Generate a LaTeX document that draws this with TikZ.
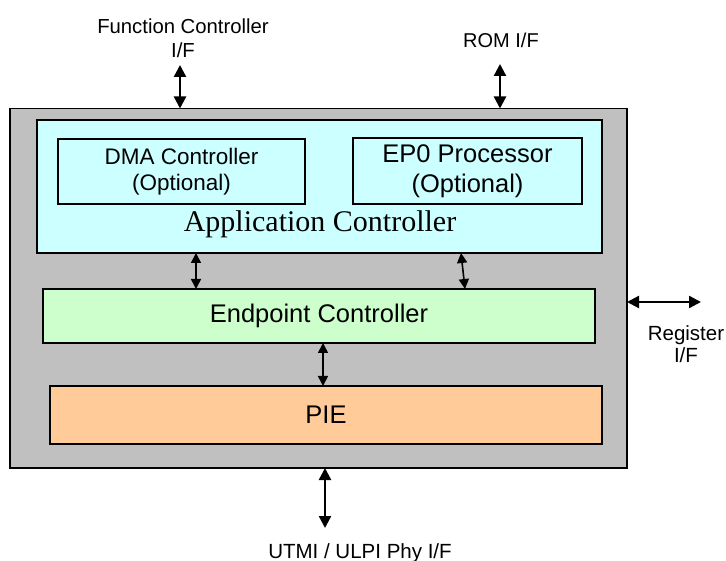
\documentclass[tikz,border=0pt]{standalone}
\usepackage{fontspec}
\setmainfont{Liberation Sans}
\newfontfamily\serifface{Liberation Serif}
\usetikzlibrary{arrows.meta}

\definecolor{shellgray}{RGB}{192,192,192}
\definecolor{appcyan}{RGB}{204,255,255}
\definecolor{epgreen}{RGB}{204,255,204}
\definecolor{pieorange}{RGB}{255,204,153}

\tikzset{
  blk/.style={draw, line width=1.4pt, inner sep=0pt, outer sep=0pt},
  link/.style={{Triangle[length=10pt,width=10pt]}-{Triangle[length=10pt,width=10pt]}, line width=1.6pt},
  bus/.style={<->, line width=2.3pt},
}

\begin{document}
\begin{tikzpicture} [x=1pt, y=-1pt, >={Triangle[length=12pt,width=12pt]}]
  \useasboundingbox (0,0) rectangle (726,561);

  % core and its blocks
  \node[blk, fill=shellgray, minimum width=617, minimum height=359.5] (core) at (318.5,288.25) {};
  \node[blk, fill=appcyan, minimum width=565, minimum height=133] (app) at (319.5,186.5) {};
  \node[blk, minimum width=247, minimum height=65, align=center,
        font=\fontsize{22.5}{26}\selectfont] (dma) at (181.5,171.5) {DMA Controller\\(Optional)};
  \node[blk, minimum width=229, minimum height=66, align=center,
        font=\fontsize{25.5}{30}\selectfont] (ep0) at (467.5,171) {EP0 Processor\\(Optional)};
  \node[anchor=base, font=\serifface\fontsize{30}{36}\selectfont] (apptxt) at (320,231.5) {Application Controller};

  \node[blk, fill=epgreen, minimum width=552, minimum height=54,
        font=\fontsize{25.5}{30}\selectfont] (epc) at (319,316) {Endpoint Controller};
  \node[blk, fill=pieorange, minimum width=552, minimum height=58,
        font=\fontsize{25.5}{30}\selectfont] (pie) at (326,415) {PIE};

  % interface labels
  \node[align=center, font=\fontsize{20.3}{24}\selectfont] (fcif) at (183,38) {Function Controller\\I/F};
  \node[font=\fontsize{20}{24}\selectfont] (romif) at (501,40) {ROM I/F};
  \node[align=center, font=\fontsize{20.5}{22}\selectfont] (regif) at (686,344) {Register\\I/F};
  \node[anchor=base, font=\fontsize{20.5}{24}\selectfont] (phyif) at (360,558) {UTMI / ULPI Phy I/F};

  \coordinate (fcend) at (180,65);
  \coordinate (romend) at (500,64);
  \coordinate (regend) at (701,302);
  \coordinate (phyend) at (325,528);

  % external buses
  \draw[bus] (fcend) -- (fcend |- core.north);
  \draw[bus] (romend) -- (romend |- core.north);
  \draw[bus] (core.east |- regend) -- (regend);
  \draw[bus] (phyend |- core.south) -- (phyend);

  % internal links
  \draw[link] ([xshift=-123.5pt]app.south) -- ([xshift=-123pt]epc.north);
  \draw[link] ([xshift=141.5pt]app.south) -- ([xshift=146pt]epc.north);
  \draw[link] ([xshift=4pt]epc.south) -- ([xshift=-3pt]pie.north);
\end{tikzpicture}
\end{document}
